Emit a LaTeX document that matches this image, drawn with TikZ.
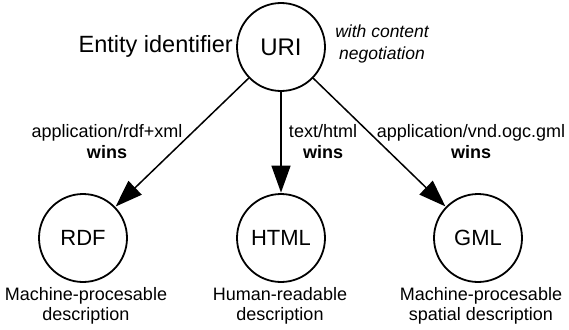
\documentclass[tikz,border=0pt]{standalone}
\usepackage{fontspec}
\setmainfont{Liberation Sans}
\usetikzlibrary{arrows.meta}
\begin{document}
\begin{tikzpicture}[x=1pt,y=-1pt,
  circ/.style={circle,draw,line width=1.8pt,minimum size=88pt,inner sep=0pt,font=\fontsize{22}{24}\selectfont},
  conn/.style={line width=1.5pt,-{Triangle[length=27pt,width=19pt]},shorten >=0.5pt},
  lbl/.style={align=center,inner sep=0pt,font=\fontsize{18}{21}\selectfont},
  dsc/.style={align=center,inner sep=0pt,font=\fontsize{18}{20.5}\selectfont}]
\useasboundingbox (0,0) rectangle (569,329);
\node[circ,font=\fontsize{24}{26}\selectfont] (uri) at (281,47) {URI};
\node[circ] (rdf) at (83,238) {RDF};
\node[circ] (html) at (281,238) {HTML};
\node[circ] (gml) at (478,238) {GML};
\node[anchor=east,inner sep=0pt,font=\fontsize{23.5}{26}\selectfont] (entity) at (233,46) {Entity identifier};
\node[lbl,font=\fontsize{17.5}{22}\itshape] (neg) at (382,44) {with content\\negotiation};
\draw[conn] (uri) -- (rdf);
\draw[conn] (uri) -- (html);
\draw[conn] (uri) -- (gml);
\node[lbl] (l1) at (107,142) {application/rdf+xml\\\textbf{wins}};
\node[lbl] (l2) at (323,142) {text/html\\\textbf{wins}};
\node[lbl] (l3) at (471,142) {application/vnd.ogc.gml\\\textbf{wins}};
\node[dsc] (d1) at (86,306) {Machine-procesable\\description};
\node[dsc] (d2) at (280,306) {Human-readable\\description};
\node[dsc] (d3) at (481,306) {Machine-procesable\\spatial description};
\end{tikzpicture}
\end{document}
